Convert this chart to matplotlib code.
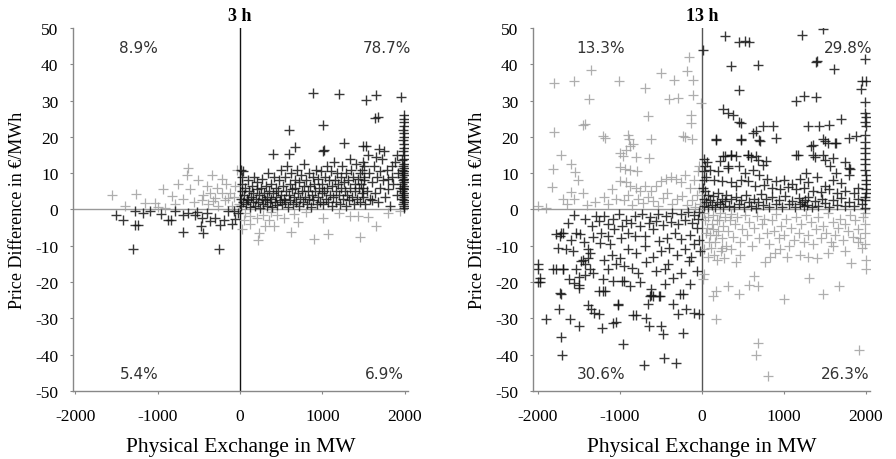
import numpy as np
import matplotlib
matplotlib.use("Agg")
import matplotlib.pyplot as plt

plt.rcParams['font.family'] = ['Liberation Serif', 'DejaVu Serif']
plt.rcParams['axes.unicode_minus'] = False

# ---- 3 h ----  (MW, EUR/MWh)
h3_q1 = [(882,32.1),(1199,31.9),(1533,30.1),(1654,31.5),(1959,31.0),(1640,25.2),(1680,25.4),(589,22.0),(1004,23.4),
         (671,17.2),(394,15.4),(589,15.4),(1260,18.3),(1492,17.4),(1533,17.4),(1687,16.7),(1004,16.1),(1020,16.5),
         (1990,26),(1990,25),(1990,24),(1990,23),(1975,22),(1990,21),(1990,20),(1975,19),(1990,18),(1990,17),(1975,16),
         (1990,15),(1990,14),(1960,13.5),(1990,12.5),(1975,12),(1990,11.5),(1960,11),(1990,10.5),(1975,10),(1990,9.5),
         (1960,9),(1990,8.5),(1975,8),(1990,7.5),(1960,7),(1990,6.5),(1975,6),(1990,5.5),(1960,5),(1990,4.5),(1975,4),
         (1990,3.5),(1960,3),(1990,2.5),(1990,2),(1975,1.5),(1990,1),(1990,0.5),
         (10,1),(15,3),(20,5),(25,7),(30,10.5),(40,2),(50,4),(60,6),(70,1.5),(80,3),(90,8),(100,2.5),(110,5),(120,0.8),
         (130,3.5),(140,6.5),(150,2),(160,4.5),(170,9),(180,1),(190,3),(200,5.5),(210,7.5),(220,2),(230,4),(240,0.5),
         (250,6),(260,3),(270,8.5),(280,1.5),(290,4.5),(300,2.5),(310,6.5),(320,1),(330,3.5),(340,10),(350,5),(360,2),
         (370,7),(380,3),(390,0.8),(400,4.5),(410,9),(420,2),(430,6),(440,3.5),(450,1.2),(460,5),(470,8),(480,2.5),
         (490,11),(500,4),(10,11),(20,9),
         (510,1.5),(520,6.5),(530,3),(540,9),(550,2),(560,5),(570,12),(580,0.8),(590,4),(600,7),(610,2.5),(620,10),
         (630,5.5),(640,1.5),(650,3.5),(660,8),(670,6),(680,2),(690,11),(700,4.5),(710,1),(720,7.5),(730,3),(740,9.5),
         (750,5),(760,2),(770,6.5),(780,12.5),(790,3.5),(800,8),(810,1.5),(820,5),(830,10),(840,3),(850,6.5),(860,0.8),
         (870,4),(880,9),(890,2.5),(900,7),(910,5),(920,11),(930,1.5),(940,3.5),(950,8.5),(960,6),(970,2),(980,10.5),
         (990,4.5),(1000,7),
         (1010,1.5),(1020,5),(1030,9),(1040,3),(1050,12),(1060,6),(1070,2),(1080,8),(1090,4),(1100,10.5),(1110,1),
         (1120,6.5),(1130,3.5),(1140,13),(1150,8),(1160,5),(1170,2),(1180,10),(1190,7),(1200,4),(1210,1.5),(1220,9),
         (1230,6),(1240,12),(1250,3),(1260,7.5),(1270,5),(1280,1),(1290,10),(1300,4),(1310,8),(1320,2.5),(1330,14),
         (1340,6),(1350,11),(1360,3.5),(1370,9),(1380,1.5),(1390,7),(1400,5),(1410,12.5),(1420,3),(1430,8.5),(1440,6),
         (1450,10),(1460,2),(1470,7),(1480,4.5),(1490,13),(1500,9),(1480,11),(1490,6),(1510,8),(1505,12),(1495,3.5),
         (1520,1.5),(1540,5),(1560,10),(1580,3),(1600,7.5),(1620,12),(1640,4.5),(1660,9),(1680,2),(1700,6),(1720,14),
         (1740,8),(1760,3.5),(1780,11),(1800,5.5),(1820,1),(1840,9),(1860,7),(1880,13),(1900,4),(1920,10),(1940,6),
         (1550,15),(1650,14.5),(1750,16),(1850,12),(1700,10.5),(1600,2.5),(1800,8.5),(1900,15)]
h3_q2 = [(-1557,3.9),(-1260,4.3),(-1159,1.8),(-1037,1.8),(-935,5.7),(-833,3.7),(-752,6.9),(-630,11.5),(-650,9.6),
         (-508,8.1),(-346,9.6),(-224,8.3),(-610,5.5),(-407,6.4),(-366,4.6),(-305,3.2),(-224,4.6),(-142,3.2),(-915,0.5),
         (-793,1.4),(-467,2.7),(-386,1.4),(-325,2.3),(-264,1.0),(-183,2.7),(-122,4.6),(-61,6.4),(-40,11.0),(-20,1.5),
         (-100,1.0),(-700,3.0),(-560,2.0),(-450,4.0),(-1400,1.0),(-1000,0.8),(-280,5.8),(-170,7.0),(-80,3.5)]
h3_q3 = [(-1504,-1.4),(-1423,-3.0),(-1280,-4.4),(-1240,-4.4),(-1300,-10.8),(-1272,-0.3),(-1179,-0.9),(-1098,-0.3),
         (-882,-2.9),(-834,-2.9),(-691,-6.2),(-793,-0.5),(-630,-0.9),(-548,-1.4),(-467,-2.3),(-475,-4.6),(-455,-6.4),
         (-366,-3.2),(-305,-2.3),(-244,-4.4),(-191,-2.8),(-102,-4.1),(-256,-10.8),(-150,-0.5),(-80,-0.5),(-30,-1.0),
         (-400,-1.0),(-520,-0.6),(-60,-2.5),(-700,-1.5),(-960,-1.2)]
h3_q4 = [(211,-8.3),(232,-6.4),(415,-4.6),(618,-6.2),(902,-8.1),(1065,-6.9),(1451,-7.5),(1654,-4.6),(1329,-1.8),
         (1431,-1.8),(1004,-2.3),(1800,-0.9),(1939,-0.5),(60,-0.9),(120,-1.8),(200,-2.3),(280,-1.4),(350,-2.8),
         (450,-1.4),(530,-2.3),(650,-1.2),(120,-4.0),(300,-4.6),(50,-3.0),(700,-3.4),(800,-0.8),(1200,-1.0),
         (1550,-2.0),(20,-5.5),(380,-0.6)]
h3_shares = ["78.7%", "8.9%", "5.4%", "6.9%"]

# ---- 13 h ----
h13_q1 = [(285,47.7),(455,46.1),(577,46.0),(520,46.3),(354,39.4),(679,39.9),(447,32.8),(1220,48.0),(1472,49.7),
          (1390,40.6),(1410,40.8),(1614,38.7),(1992,41.5),(1959,35.3),(2008,35.3),(1939,33.2),(1992,29.5),(1992,26.6),
          (2000,25.5),(1992,24.0),(2000,22.9),(1146,29.8),(1248,31.2),(1390,31.0),(252,27.7),(313,26.6),(374,26.1),
          (455,24.0),(475,23.8),(171,19.4),(476,19.4),(699,19.1),(618,21.1),(740,22.9),(862,22.9),(1289,22.9),
          (1431,22.9),(1553,23.4),(1695,24.8),(1350,17.7),(1472,19.3),(1533,18.3),(1634,18.3),(1797,19.7),(1878,20.2),
          (1146,15.1),(1350,15.1),(1472,15.1),(1268,10.1),(1594,14.2),(1797,11.5),(1810,11.2),(10,44),(30,14),(40,12),
          (30,10.5),(60,13),(252,14.7),(354,15.1),(415,14.7),(313,11.9),(455,11.9),(557,15.1),(600,14.5),(680,13.5),
          (740,12.3),(175,19.1),(480,19.1),(703,18.8),(907,19.7),(663,21.6),(1496,18.8),(1618,18.3),(1333,17.6),
          (276,14.7),(358,14.9),(215,13.3),(561,15.1),(663,14.7),(785,13.3),(1171,15.1),(1380,14.5),(1500,13.5),
          (1560,12.0),(1640,10.0),(1740,13.0),
          (100,11),(200,10.5),(320,11.5),(520,10),(620,11),(700,9.5),(800,8.5),(900,7.8),(1000,8.2),(1100,7.0),
          (1200,8.5),(1300,7.5),(1400,9.0),(1500,6.5),(1600,8.0),(1700,7.2),(1800,9.5),(1900,6.0),(150,8.0),(250,7.8),
          (350,7.5),(420,6.5),(480,8.0),(560,7.8),(650,6.5),(760,6.8),(850,6.0),(950,5.5),(1050,6.2),(1150,5.5),
          (1250,5.8),(1350,5.0),(1450,4.8),(1550,5.5),(1650,4.5),(1750,5.0),(1850,4.5),(2000,9.5),(2000,8.0),
          (2000,7.0),(2000,5.5),(2000,4.5),(1990,14),(1990,15.5),(1990,17),(1990,18.5),(1990,20.5),(1990,12.5),
          (1990,11),
          (20,1),(30,3),(50,2),(70,4),(80,0.8),(100,2.5),(120,1.2),(140,3.8),(160,0.6),(180,2),(200,4.5),(220,1.5),
          (240,3),(260,0.8),(280,2.2),(300,4),(330,1),(360,2.8),(390,0.6),(420,3.5),(450,1.5),(480,2.5),(510,0.8),
          (540,4),(570,2),(600,1),(630,3),(660,0.5),(690,2),(720,4.2),(750,1.2),(780,2.8),(820,0.8),(860,3.5),
          (900,1.5),(940,2.5),(980,0.7),(1020,3.8),(1060,1.5),(1100,2.2),(1140,0.8),(1180,3.2),(1200,1.5),(1220,2.0),
          (1240,0.9),(1260,2.6),(1280,1.2),(1300,3.5),(1340,0.6),(1380,2.2),(1420,1.0),(1460,3.0),(1500,1.8),
          (1550,0.7),(1600,2.5),(1650,1.2),(1700,3.2),(1750,0.9),(1800,2.0),(1850,1.0),(1900,2.8),(1950,1.5),
          (1990,0.5),(1990,2.5),(1990,3.5),(15,6),(25,8),(40,5.2),(55,9)]
h13_q2 = [(-1801,34.9),(-1557,35.3),(-1354,38.3),(-1374,30.3),(-1801,21.3),(-1720,15.0),(-1821,11.2),(-1598,12.5),
          (-1545,10.3),(-1516,8.0),(-1455,23.4),(-1430,23.5),(-1829,6.2),(-1598,4.8),(-1557,2.8),(-1211,20.2),
          (-1180,19.8),(-1008,35.5),(-907,20.4),(-886,19.3),(-1000,15.5),(-960,14.8),(-920,16.5),(-880,17.5),
          (-845,18.0),(-663,25.7),(-805,14.5),(-1000,11.8),(-940,11.2),(-880,10.8),(-790,10.5),(-691,33.5),
          (-500,37.6),(-398,30.5),(-297,30.7),(-337,35.6),(-187,38.1),(-154,42.0),(-114,35.8),(-106,31.4),(-12,29.4),
          (-134,26.1),(-134,23.9),(-236,20.2),(-200,20.0),(-120,19.5),(-622,19.3),(-642,14.2),(-2004,1.0),(-1900,0.5),
          (-1000,7.8),(-930,7.5),(-880,6.5),(-800,6.0),(-760,5.0),(-700,6.5),(-620,5.0),(-560,6.5),(-500,7.8),
          (-440,8.3),(-380,9.0),(-320,8.5),(-260,7.5),(-200,9.5),(-150,6.0),(-100,8.0),(-50,10.5),(-30,12.0),
          (-1100,5.5),(-1200,3.5),(-1300,2.0),(-1150,1.5),(-1050,3.0),(-950,2.5),(-900,4.0),(-850,1.2),(-780,3.0),
          (-720,1.8),(-660,3.5),(-600,2.2),(-540,1.0),(-480,3.2),(-420,4.5),(-360,1.5),(-300,2.8),(-240,3.8),
          (-180,1.2),(-120,2.5),(-60,4.0),(-20,1.5),(-40,6.0),(-80,0.8),(-1400,1.2),(-1650,1.5),(-1700,3.0),
          (-1450,4.5)]
h13_q3 = [(-1720,-6.6),(-1700,-6.4),(-2000,-15.1),(-2000,-16.5),(-2000,-20.0),(-1902,-30.1),(-1780,-16.5),
          (-1699,-16.5),(-1720,-23.2),(-1740,-27.3),(-1720,-35.1),(-1707,-40.2),(-1610,-30.3),(-1496,-32.1),
          (-1618,-19.3),(-1557,-20.2),(-1496,-20.7),(-1496,-21.6),(-1450,-14),(-1430,-15),(-1390,-13.5),
          (-1370,-16.5),(-1330,-17.5),(-1354,-27.5),(-1313,-28.5),(-1252,-28.7),(-1220,-32.8),(-1089,-31.2),
          (-1050,-31.0),(-1028,-26.2),(-967,-37.2),(-947,-19.7),(-1252,-22.5),(-1212,-22.5),(-846,-29.2),
          (-806,-29.2),(-683,-29.8),(-642,-32.1),(-500,-32.1),(-480,-34.4),(-520,-23.9),(-600,-23.9),(-620,-22.0),
          (-703,-42.9),(-459,-41.0),(-317,-42.2),(-236,-34.0),(-297,-28.9),(-195,-27.5),(-93,-28.5),(-33,-28.9),
          (-228,-23.4),(-419,-15.1),(-154,-14.2),
          (-1634,-3.7),(-1776,-6.9),(-1736,-7.2),(-1530,-6.4),(-1490,-6.9),(-1756,-10.6),(-1654,-10.8),(-1573,-11.5),
          (-1390,-11.0),(-1370,-11.9),(-1248,-9.2),(-1126,-9.6),(-1817,-16.5),(-1695,-16.5),(-1535,-16.5),
          (-1475,-14.2),(-1430,-18.0),(-1495,-18.5),(-1207,-19.3),(-1185,-22.5),(-1090,-19.7),(-980,-19.8),
          (-638,-23.9),(-620,-23.5),(-516,-23.9),(-272,-23.4),(-1736,-23.1),(-1389,-26.3),(-1020,-26.0),(-655,-26.0),
          (-1980,-18.8),(-1980,-20.0),
          (-1290,-1.8),(-1250,-3.2),(-1190,-1.8),(-1090,-2.7),(-1010,-1.3),(-930,-3.0),(-820,-1.8),(-730,-1.2),
          (-630,-2.2),(-530,-1.2),(-440,-1.8),(-360,-1.0),(-250,-1.2),(-170,-0.8),(-100,-1.5),(-40,-0.6),
          (-1230,-6.4),(-1150,-7.2),(-1070,-5.5),(-990,-8.0),(-900,-6.5),(-810,-7.3),(-700,-7.3),(-600,-5.5),
          (-520,-8.6),(-420,-8.0),(-330,-6.5),(-250,-8.2),(-150,-7.0),(-60,-5.0),(-1100,-12.5),(-1000,-13.5),
          (-900,-11.0),(-800,-12.0),(-700,-10.0),(-600,-13.0),(-500,-11.5),(-400,-10.5),(-300,-12.5),(-200,-11.0),
          (-100,-9.5),(-30,-8.5),(-950,-15.5),(-850,-16.0),(-780,-17.5),(-680,-14.5),(-560,-17.0),(-450,-16.5),
          (-350,-19.0),(-250,-17.5),(-130,-13.0),(-20,-11.5),(-1340,-4.5),(-1150,-4.0),(-980,-4.5),(-860,-3.8),
          (-760,-4.5),(-650,-3.8),(-560,-3.2),(-470,-4.2),(-380,-3.5),(-290,-4.0),(-200,-3.0),(-120,-3.8),
          (-50,-2.5),(-1560,-1.5),(-1420,-2.5),(-1600,-8.5),(-1440,-9.0),(-1330,-7.5),(-1200,-14.0),(-1150,-16.5),
          (-1050,-15.0),(-880,-21.0),(-750,-20.0),(-450,-20.5),(-350,-26.0),(-150,-20.5),(-60,-17.0)]
h13_q4 = [(171,-30.3),(679,-36.7),(659,-40.2),(801,-45.9),(1911,-38.8),(1004,-24.6),(171,-22.5),(130,-23.9),
          (313,-21.1),(455,-23.4),(577,-20.7),(679,-21.1),(638,-18.2),(1309,-18.8),(1472,-23.4),(1675,-21.1),
          (2008,-14.0),(2008,-16.3),(1817,-14.7),(28,-17.9),(8,-19.3),(770,-14.5),(830,-13.0),(890,-12.0),
          (950,-11.0),(470,-12.5),(420,-14.5),(350,-11.0),(1040,-13.0),(1200,-12.5),(1300,-13.0),(1400,-13.5),
          (1540,-12.0),(1600,-10.0),(1750,-11.5),(1900,-9.0),(1950,-10.5),
          (20,-1),(40,-3),(60,-5),(80,-2),(100,-7),(120,-4),(140,-1.5),(160,-9),(180,-3),(200,-6),(220,-1),(240,-8),
          (260,-4.5),(280,-2),(300,-10),(320,-6),(340,-3),(360,-1.2),(380,-7.5),(400,-4),(430,-2),(460,-9),
          (490,-5.5),(520,-1.5),(550,-7),(580,-3.5),(610,-10),(640,-5),(670,-1.8),(700,-8),(730,-4),(760,-2.5),
          (790,-6.5),(820,-9.5),(850,-3),(880,-6),(910,-1.2),(940,-8),(970,-4.5),(1000,-7),(1030,-2.5),(1060,-10),
          (1090,-5),(1120,-8.5),(1150,-2),(1180,-6.5),(1210,-4),(1240,-9),(1270,-1.5),(1300,-7),(1330,-3.5),
          (1360,-9.5),(1390,-5.5),(1420,-2),(1450,-8),(1480,-4.5),(1510,-6.5),(1540,-1),(1570,-9),(1600,-3.5),
          (1630,-7),(1660,-5),(1690,-2.5),(1720,-8.5),(1750,-4),(1780,-6),(1810,-1.5),(1840,-7.5),(1870,-3),
          (1900,-5.5),(1930,-8),(1960,-2),(1990,-4),(1990,-6.5),(1990,-9.5),(1990,-1),(30,-11),(70,-13),(110,-10.5),
          (150,-12.5),(190,-14),(230,-11.5),(270,-13.5),(50,-6.5),(90,-9),(130,-5.5),(170,-7),(210,-3),(250,-10.5)]
h13_shares = ["29.8%", "13.3%", "30.6%", "26.3%"]

xticks = [-2000, -1000, 0, 1000, 2000]
yticks = [-50, -40, -30, -20, -10, 0, 10, 20, 30, 40, 50]

fig = plt.figure(figsize=(8.96, 4.6), dpi=100)
ax1 = fig.add_axes([0.0815, 0.148, 0.374, 0.789])
ax2 = fig.add_axes([0.5949, 0.148, 0.376, 0.789])

panels = [(ax1, "3 h", [h3_q1, h3_q2, h3_q3, h3_q4], h3_shares, '#111111', (-2030, 2040)),
          (ax2, "13 h", [h13_q1, h13_q2, h13_q3, h13_q4], h13_shares, '#555555', (-2060, 2050))]

for ax, title, quads, shares, vcol, xl in panels:
    q1, q2, q3, q4 = [np.array(q) for q in quads]
    # wrong-direction quadrants in grey, underneath
    for q in (q2, q4):
        ax.plot(q[:, 0], q[:, 1], '+', color='#a0a0a0', ms=7.5, mew=0.9, alpha=0.85)
    for q in (q1, q3):
        ax.plot(q[:, 0], q[:, 1], '+', color='#151515', ms=7.5, mew=1.0, alpha=0.85)

    ax.axvline(0, color=vcol, lw=1.0, zorder=0)
    ax.axhline(0, color='#999999', lw=1.0, zorder=0)

    ax.set_xlim(*xl)
    ax.set_ylim(-50, 50)
    ax.set_xticks(xticks)
    ax.set_yticks(yticks)
    ax.tick_params(direction='out', length=2.5, color='#888888', labelsize=12.5)
    ax.tick_params(axis='y', pad=8)
    ax.tick_params(axis='x', pad=10)
    for s in ['top', 'right']:
        ax.spines[s].set_visible(False)
    for s in ['left', 'bottom']:
        ax.spines[s].set_color('#888888')
        ax.spines[s].set_linewidth(1.0)

    ax.set_xlabel("Physical Exchange in MW", fontsize=15.5, labelpad=9)
    ax.set_ylabel("Price Difference in €/MWh", fontsize=13, labelpad=7)
    ax.text(0, 51.2, title, ha='center', va='bottom', fontsize=13, fontweight='bold')

    pct = dict(fontsize=11, color='#333333', family=['DejaVu Sans'])
    ax.text(1780, 44.6, shares[0], ha='center', va='center', **pct)
    ax.text(-1230, 44.6, shares[1], ha='center', va='center', **pct)
    ax.text(-1230, -45.2, shares[2], ha='center', va='center', **pct)
    ax.text(1750, -45.2, shares[3], ha='center', va='center', **pct)

fig.savefig("out.png", dpi=100)
